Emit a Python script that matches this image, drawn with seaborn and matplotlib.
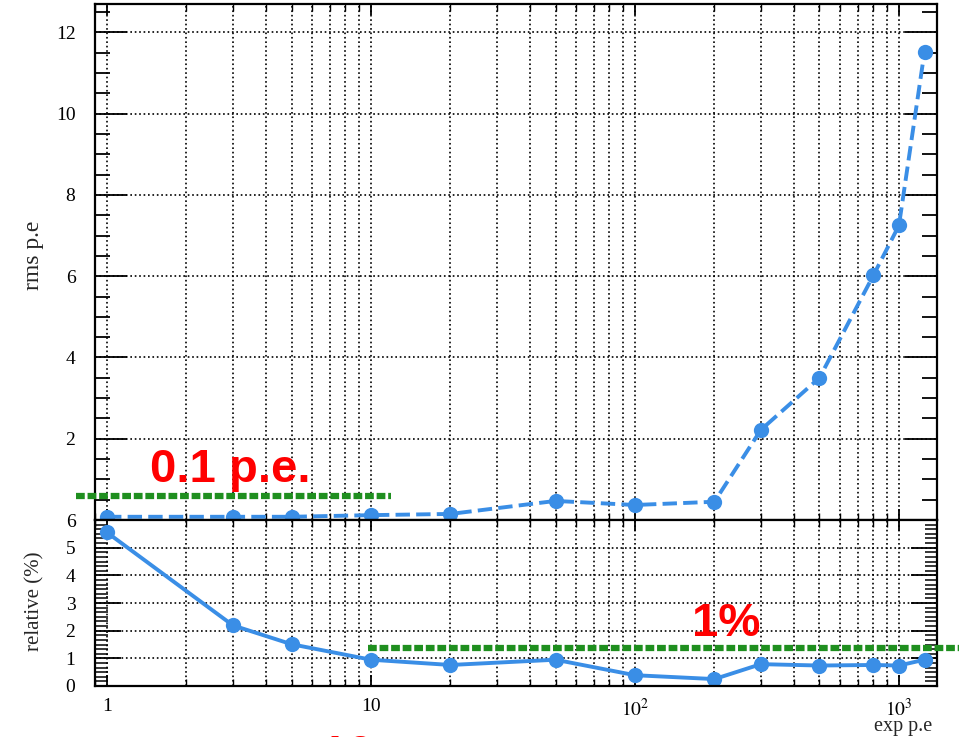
import numpy as np
import matplotlib
matplotlib.use("Agg")
import matplotlib.pyplot as plt
import matplotlib.ticker as mticker
import seaborn as sns

# values
exp_pe = [1, 3, 5, 10, 20, 50, 100, 200, 300, 500, 800, 1000, 1250]
rms_pe = [0.08, 0.08, 0.08, 0.12, 0.15, 0.47, 0.37, 0.45, 2.22, 3.5, 6.02, 7.25, 11.53]
relative = [5.55, 2.19, 1.51, 0.95, 0.76, 0.95, 0.39, 0.25, 0.79, 0.74, 0.76, 0.74, 0.95]

level_pe = 0.58          # green "0.1 p.e." marker line
level_pe_x = [0.76, 11.9]
level_rel = 1.36         # green "1%" marker line
level_rel_x = [9.7, 1700]

sns.set_style("ticks")
plt.rcParams['font.family'] = ['Liberation Serif', 'DejaVu Serif']
plt.rcParams['mathtext.fontset'] = 'stix'

blue = "#3a8ee6"
green = "#1f8f1f"
red = "#ff0000"

fig = plt.figure(figsize=(9.59, 7.37), dpi=100)
ax1 = fig.add_axes([0.099, 0.2944, 0.878, 0.7002])
ax2 = fig.add_axes([0.099, 0.0692, 0.878, 0.2252], sharex=ax1)

sns.lineplot(x=exp_pe, y=rms_pe, ax=ax1, color=blue, linestyle="--", lw=2.8,
             marker="o", markersize=11, markeredgewidth=0)
sns.lineplot(x=exp_pe, y=relative, ax=ax2, color=blue, lw=2.8,
             marker="o", markersize=11, markeredgewidth=0)

for ax in (ax1, ax2):
    ax.set_xscale("log")
    ax.set_xlim(0.9, 1393)
    ax.xaxis.set_major_locator(mticker.LogLocator(base=10))
    ax.xaxis.set_minor_locator(mticker.LogLocator(base=10, subs=np.arange(2, 10)))
    ax.grid(True, which="both", axis="x", color="black", linestyle=":", lw=1.2)
    ax.grid(True, which="major", axis="y", color="black", linestyle=":", lw=1.2)
    ax.tick_params(which="both", direction="in", top=True, right=True, colors="black")
    for s in ax.spines.values():
        s.set_visible(True)
        s.set_color("black")
        s.set_linewidth(1.6)
    ax.set_xlabel("")
    ax.set_ylabel("")

ax1.set_ylim(0, 12.7)
ax1.set_yticks([2, 4, 6, 8, 10, 12])
ax1.yaxis.set_minor_locator(mticker.MultipleLocator(0.5))
ax1.tick_params(which="major", axis="y", length=23, width=1.3, labelsize=14, pad=14)
ax1.tick_params(which="minor", axis="y", length=11, width=1.3)
ax1.tick_params(which="major", axis="x", length=8, width=1.3, labelbottom=False)
ax1.tick_params(which="minor", axis="x", length=5, width=1.0)

ax2.set_ylim(0, 6)
ax2.set_yticks([0, 1, 2, 3, 4, 5, 6])
ax2.yaxis.set_minor_locator(mticker.AutoMinorLocator(6))
ax2.tick_params(which="major", axis="y", length=19, width=1.3, labelsize=14, pad=14)
ax2.tick_params(which="minor", axis="y", length=9, width=1.1)
ax2.tick_params(which="major", axis="x", length=8, width=1.3, labelsize=14, pad=9)
ax2.tick_params(which="minor", axis="x", length=5, width=1.0)
ax2.xaxis.set_major_formatter(mticker.FuncFormatter(
    lambda v, p: "1" if v == 1 else ("10" if v == 10 else r"$10^{%d}$" % round(np.log10(v)))))

# green dotted reference lines (reach past the frame like in the original)
ax1.plot(level_pe_x, [level_pe, level_pe], color=green, lw=4.5, linestyle=(0, (1.4, 0.45)),
         clip_on=False, zorder=5)
ax2.plot(level_rel_x, [level_rel, level_rel], color=green, lw=4.5, linestyle=(0, (1.4, 0.45)),
         clip_on=False, zorder=5)

fig.text(0.035, 1 - 255 / 737, "rms p.e", rotation=90, fontsize=17, ha="center", va="center")
fig.text(0.036, 1 - 601 / 737, "relative (%)", rotation=90, fontsize=15, ha="center", va="center")
fig.text(903 / 959, 1 - 726 / 737, "exp p.e", fontsize=14.5, ha="center", va="center")

rfont = dict(family=["Liberation Sans", "DejaVu Sans"], weight="bold", color=red, fontsize=34)
fig.text(150 / 959, 1 - 482 / 737, "0.1 p.e.", ha="left", va="baseline", **rfont)
fig.text(692 / 959, 1 - 636 / 737, "1%", ha="left", va="baseline", **rfont)
fig.text(321 / 959, 1 - 734 / 737, "10", ha="left", va="top", **rfont)

fig.savefig("out.png", dpi=100)
